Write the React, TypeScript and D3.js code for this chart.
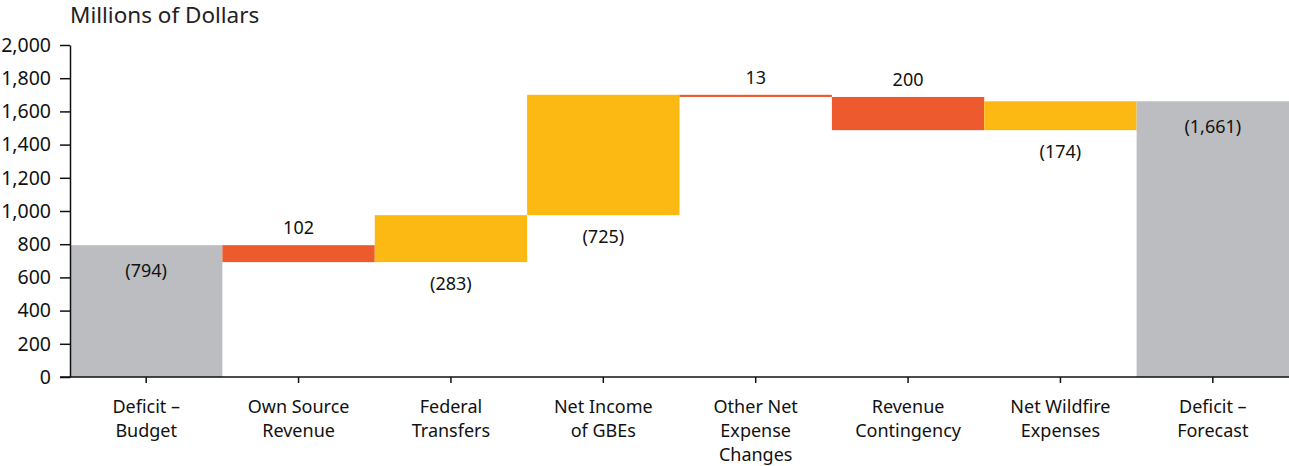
import React, { useEffect, useRef } from "react";
import * as d3 from "d3";

const categories = [
  ["Deficit –", "Budget"],
  ["Own Source", "Revenue"],
  ["Federal", "Transfers"],
  ["Net Income", "of GBEs"],
  ["Other Net", "Expense", "Changes"],
  ["Revenue", "Contingency"],
  ["Net Wildfire", "Expenses"],
  ["Deficit –", "Forecast"],
];
// positive = deficit grows, negative = deficit shrinks
const changes = [794, -102, 283, 725, -13, -200, 174, 1661];
const kinds = ["total", "down", "up", "up", "down", "down", "up", "total"];
const labels = ["(794)", "102", "(283)", "(725)", "13", "200", "(174)", "(1,661)"];
const yTicks = [0, 200, 400, 600, 800, 1000, 1200, 1400, 1600, 1800, 2000];

const colors: Record<string, string> = { total: "#bcbdc0", down: "#ec5a2d", up: "#fdb913" };

const W = 1289, H = 466;
const margin = { top: 45, right: 0, bottom: 89, left: 70 };

export default function App() {
  const ref = useRef<SVGSVGElement>(null);

  useEffect(() => {
    const svg = d3.select(ref.current);
    svg.selectAll("*").remove();
    const font = "'Noto Sans', sans-serif";

    const x = d3.scaleBand<number>()
      .domain(categories.map((d, i) => i))
      .range([margin.left, W - margin.right])
      .padding(0);
    const y = d3.scaleLinear().domain([0, 2000]).range([H - margin.bottom, margin.top]);

    // build waterfall segments
    let run = 0;
    const segs = changes.map((v, i) => {
      let lo, hi;
      if (kinds[i] === "total") { lo = 0; hi = v; run = v; }
      else { const next = run + v; lo = Math.min(run, next); hi = Math.max(run, next); run = next; }
      return { i, lo, hi, kind: kinds[i], label: labels[i] };
    });

    svg.append("text")
      .attr("x", 70).attr("y", 23)
      .attr("font-family", font).attr("font-size", 22.5).attr("fill", "#222")
      .text("Millions of Dollars");

    svg.selectAll("rect.bar").data(segs).join("rect")
      .attr("class", "bar")
      .attr("x", d => x(d.i)!)
      .attr("width", x.bandwidth())
      .attr("y", d => y(d.hi))
      .attr("height", d => y(d.lo) - y(d.hi))
      .attr("fill", d => colors[d.kind]);

    svg.selectAll("text.val").data(segs).join("text")
      .attr("class", "val")
      .attr("x", d => x(d.i)! + x.bandwidth() / 2)
      .attr("y", d => d.kind === "total" ? y(d.hi) + 32 : d.kind === "down" ? y(d.hi) - 11 : y(d.lo) + 28)
      .attr("text-anchor", "middle")
      .attr("font-family", font).attr("font-size", 18).attr("fill", "#111")
      .text(d => d.label);

    // y axis
    const yAxis = svg.append("g")
      .attr("transform", `translate(${margin.left},0)`)
      .call(d3.axisLeft(y).tickValues(yTicks).tickFormat(d3.format(",")).tickSize(10).tickSizeOuter(0));
    yAxis.select(".domain").attr("stroke", "#111").attr("stroke-width", 1.5);
    yAxis.selectAll(".tick line").attr("stroke", "#111").attr("stroke-width", 1.5);
    yAxis.selectAll(".tick text")
      .attr("x", -19).attr("font-family", font).attr("font-size", 19.5).attr("fill", "#111");

    // x axis
    const xAxis = svg.append("g")
      .attr("transform", `translate(0,${y(0)})`)
      .call(d3.axisBottom(x).tickSize(6).tickSizeOuter(0).tickFormat(() => ""));
    xAxis.select(".domain").attr("d", `M${margin.left - 10},0H${W}`).attr("stroke", "#111").attr("stroke-width", 1.5);
    xAxis.selectAll(".tick line").attr("stroke", "#111").attr("stroke-width", 1.5);

    const cat = svg.append("g").selectAll("text").data(categories).join("text")
      .attr("x", (d, i) => x(i)! + x.bandwidth() / 2)
      .attr("y", 413)
      .attr("text-anchor", "middle")
      .attr("font-family", font).attr("font-size", 18).attr("fill", "#111");
    cat.selectAll("tspan").data(d => d).join("tspan")
      .attr("x", function () { return (this.parentNode as SVGTextElement).getAttribute("x"); })
      .attr("dy", (d, j) => j === 0 ? 0 : 24)
      .text(d => d);
  }, []);

  return (
    <svg ref={ref} width={W} height={H}
      style={{ position: "absolute", left: 0, top: 0, background: "#fff" }} />
  );
}
